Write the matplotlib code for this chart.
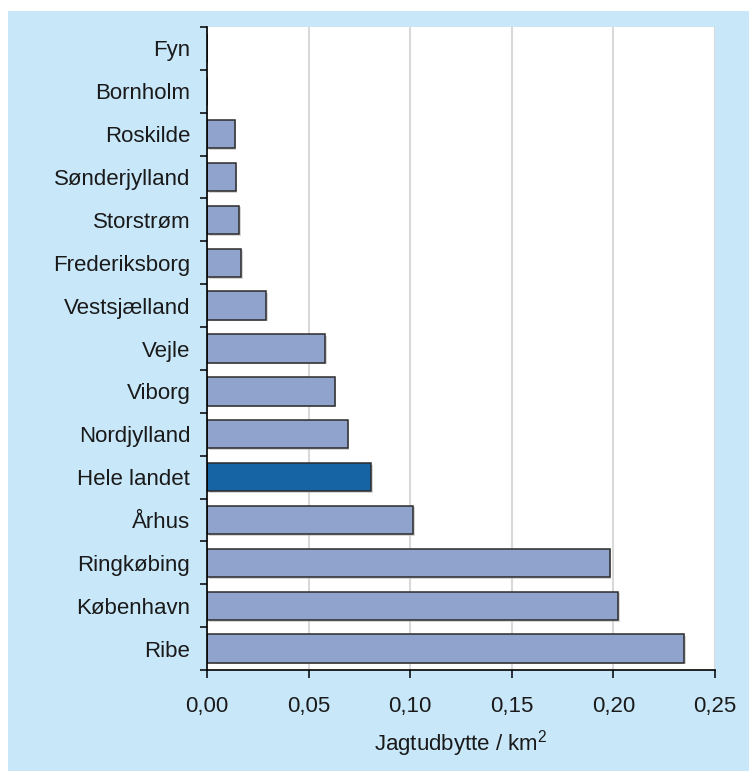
import numpy as np
import matplotlib
matplotlib.use("Agg")
import matplotlib.pyplot as plt
from matplotlib.patches import Rectangle
import matplotlib.patheffects as pe

plt.rcParams['font.family'] = ['Liberation Sans', 'DejaVu Sans']
plt.rcParams['mathtext.fontset'] = 'custom'
plt.rcParams['mathtext.rm'] = 'Liberation Sans'

# data, top to bottom as in the chart
amter = ['Fyn', 'Bornholm', 'Roskilde', 'Sønderjylland', 'Storstrøm',
         'Frederiksborg', 'Vestsjælland', 'Vejle', 'Viborg', 'Nordjylland',
         'Hele landet', 'Århus', 'Ringkøbing', 'København', 'Ribe']
udbytte = [0.0, 0.0, 0.0136, 0.0141, 0.0159, 0.0169, 0.0292, 0.0582,
           0.0628, 0.0693, 0.0808, 0.1013, 0.1982, 0.2022, 0.2347]
xticks = [0.00, 0.05, 0.10, 0.15, 0.20, 0.25]
xticklabels = ['0,00', '0,05', '0,10', '0,15', '0,20', '0,25']

bg = '#c8e7f9'
fig = plt.figure(figsize=(7.49, 7.71), dpi=100)
fig.patches.append(Rectangle((8 / 749, 0), 1, 1 - 11 / 771, transform=fig.transFigure,
                             facecolor=bg, edgecolor='none', zorder=-10))

ax = fig.add_axes([207 / 749, 1 - 670 / 771, (715 - 207) / 749, (670 - 27) / 771])
ax.set_zorder(5)
ax.set_facecolor('white')

y = np.arange(len(amter))[::-1]
colors = ['#1764a5' if a == 'Hele landet' else '#8fa3cd' for a in amter]
bars = ax.barh(y, udbytte, height=0.66, color=colors, edgecolor='#2b2b2b',
               linewidth=1.1, zorder=3)
for b, v in zip(bars, udbytte):
    if v > 0:
        b.set_path_effects([pe.SimplePatchShadow(offset=(1.2, -1.2), shadow_rgbFace='#bbbbbb', alpha=0.6),
                            pe.Normal()])

ax.set_xlim(0, 0.25)
ax.set_ylim(-0.5, len(amter) - 0.5)
ax.set_xticks(xticks)
ax.set_xticklabels(xticklabels)
ax.set_yticks(y)
ax.set_yticklabels(amter)
ax.set_yticks(np.arange(len(amter) + 1) - 0.5, minor=True)

ax.tick_params(axis='y', which='major', length=0, pad=12, labelsize=16, colors='#1a1a1a')
ax.tick_params(axis='y', which='minor', length=5, width=1.1, direction='out', color='black')
ax.tick_params(axis='x', which='major', length=6, width=1.1, direction='out', pad=13,
               labelsize=16, colors='black', labelcolor='#1a1a1a')

ax.grid(axis='x', color='#d9d9d9', linewidth=1.5, zorder=0)
ax.set_axisbelow(True)
for s in ['top', 'right']:
    ax.spines[s].set_visible(False)
for s in ['left', 'bottom']:
    ax.spines[s].set_linewidth(1.2)
    ax.spines[s].set_zorder(4)

ax.set_xlabel('Jagtudbytte / km$^{2}$', fontsize=16, color='#1a1a1a', labelpad=8)

plt.savefig('out.png', dpi=100)
